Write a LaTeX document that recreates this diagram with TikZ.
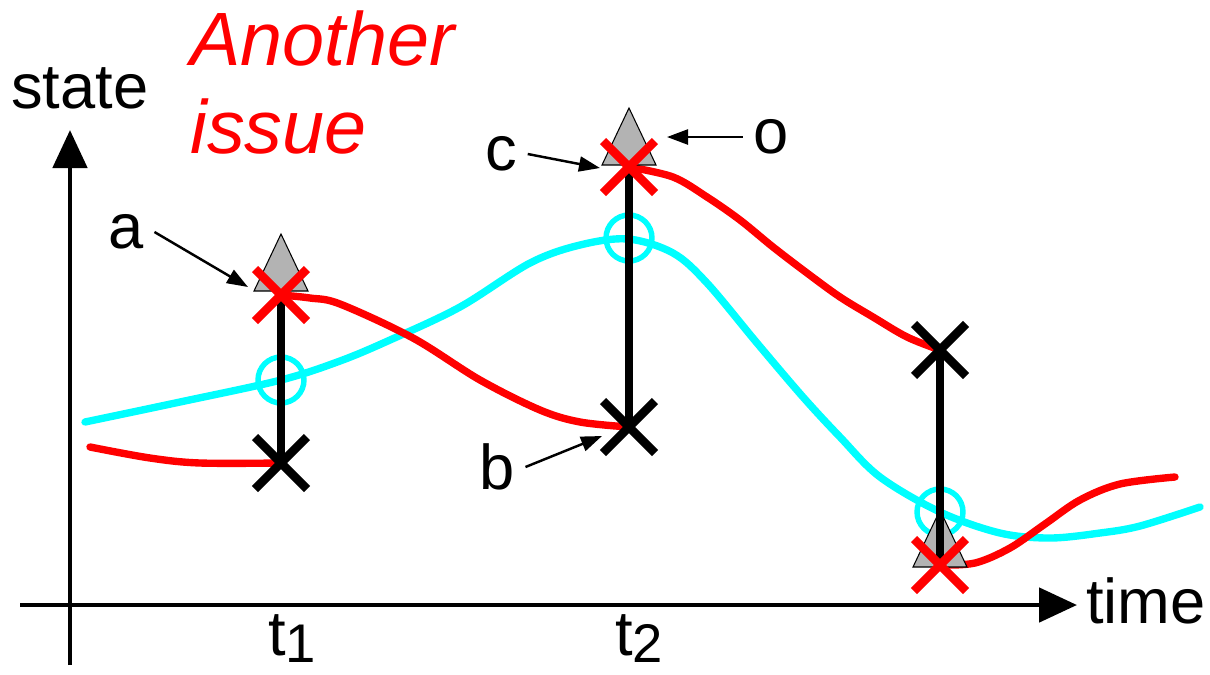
\documentclass[tikz,border=0pt]{standalone}
\usepackage{fontspec}
\setmainfont{Liberation Sans}
\usetikzlibrary{positioning,arrows.meta,calc}
\definecolor{TrackRed}{HTML}{FF0000}
\definecolor{TruthCyan}{HTML}{00FFFF}
\definecolor{ObsGrey}{HTML}{B3B3B3}
\newcommand{\xcross}[2]{\draw[line width=4.9pt,draw=#2,shift={(#1)}] (-26,-26) -- (26,26) (-26,26) -- (26,-26);}
\newcommand{\obstri}[1]{\draw[fill=ObsGrey,line width=0.6pt,shift={(#1)}] (-27,0) -- (0,-57) -- (27,0) -- cycle;}
\tikzset{
  axisline/.style={line width=2.8pt,-{Triangle[length=0.76cm,width=0.68cm]}},
  callout/.style={line width=1.4pt,-{Triangle[length=0.42cm,width=0.3cm]}},
  letter/.style={font=\fontsize{36}{40}\selectfont,inner sep=6pt},
  curve/.style={line width=4.2pt,line cap=round},
}

\begin{document}
\begin{tikzpicture}[x=0.02cm,y=-0.02cm]
  \useasboundingbox (0,0) rectangle (1210,674);
  % axes
  \coordinate (xfrom) at (20,605);
  \coordinate (xto) at (1077,605);
  \coordinate (yfrom) at (70,665);
  \coordinate (yto) at (70,130);
  \draw[axisline] (xfrom) -- (xto);
  \draw[axisline] (yfrom) -- (yto);
  \node[letter,inner sep=0,anchor=base west] (statelbl) at (11,108) {state};
  \node[letter,inner sep=0,anchor=base west] (timelbl) at (1086,623) {time};
  \node[letter,inner sep=0,anchor=base west] (tonelbl) at (268,655) {t\raisebox{-4pt}{\fontsize{31}{31}\selectfont 1}};
  \node[letter,inner sep=0,anchor=base west] (ttwolbl) at (615,655) {t\raisebox{-4pt}{\fontsize{31}{31}\selectfont 2}};
  \node[letter,inner sep=0,anchor=base west,text=TrackRed,font=\fontsize{43}{50}\selectfont\itshape] (issuetop) at (190,65) {Another};
  \node[letter,inner sep=0,anchor=base west,text=TrackRed,font=\fontsize{43}{50}\selectfont\itshape] (issuebot) at (190,153) {issue};
  % sample times: position / corrected / predicted / estimate / observation
  \foreach \k/\px/\pc/\pp/\pe/\po in {1/281/295/463/380/291, 2/629/167/427/238/165, 3/940/565/350/512/567} {
    \coordinate (corr\k) at (\px,\pc);
    \coordinate (pred\k) at (\px,\pp);
    \coordinate (est\k) at (\px,\pe);
    \coordinate (obs\k) at (\px,\po);
  }
  % true state and filter track
  \draw[curve,TruthCyan] plot[smooth,tension=0.55] coordinates {(85,422) (180,402) (est1) (340,361) (390,340) (460,307) (530,263) (580,245) (628,239) (673,253) (707,283) (757,343) (803,397) (840,437) (880,477) (est3) (1000,533) (1050,538) (1100,533) (1140,526) (1200,507)};
  \draw[curve,TrackRed] plot[smooth,tension=0.55] coordinates {(90,447) (150,458) (200,463) (pred1)};
  \draw[curve,TrackRed] plot[smooth,tension=0.55] coordinates {(corr1) (310,298) (340,304) (413,338) (480,380) (540,410) (580,422) (pred2)};
  \draw[curve,TrackRed] plot[smooth,tension=0.55] coordinates {(corr2) (673,177) (707,197) (740,220) (773,247) (807,273) (840,297) (873,317) (907,337) (pred3)};
  \draw[curve,TrackRed] plot[smooth,tension=0.55] coordinates {(corr3) (975,563) (1010,548) (1045,524) (1080,500) (1120,484) (1175,477)};
  \foreach \k in {1,2,3} \draw[TruthCyan,line width=3.1pt] (est\k) circle (0.46cm);
  \foreach \k in {1,2,3} \obstri{obs\k};
  \foreach \k in {1,2,3} \draw[line width=4.4pt] (corr\k) -- (pred\k);
  \foreach \k in {1,2,3} \xcross{pred\k}{black};
  \foreach \k in {1,2,3} \xcross{corr\k}{TrackRed};
  % callouts
  \node[letter] (lbla) at (126,232) {a};
  \node[letter] (lblb) at (497,467) {b};
  \node[letter] (lblc) at (501,154) {c};
  \node[letter] (lblo) at (771,137) {o};
  \coordinate (tipa) at (248,287);
  \coordinate (tipb) at (602,436);
  \coordinate (tipc) at (600,168);
  \coordinate (tipo) at (667,137);
  \draw[callout] (lbla.east) -- (tipa);
  \draw[callout] (lblb.east) -- (tipb);
  \draw[callout] (lblc.east) -- (tipc);
  \draw[callout] (lblo.west) -- (tipo);
\end{tikzpicture}
\end{document}
